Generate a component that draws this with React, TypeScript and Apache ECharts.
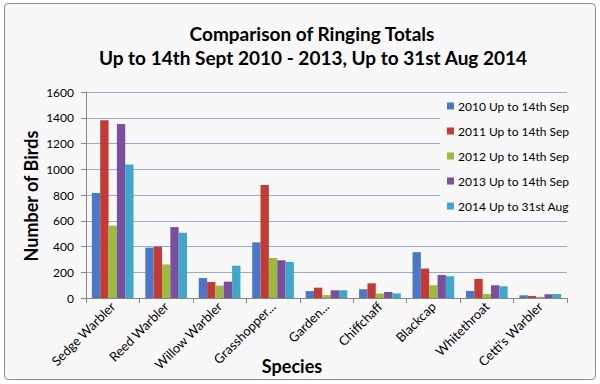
import React, { useEffect, useRef } from "react";
import * as echarts from "echarts";

const categories = [
  "Sedge Warbler",
  "Reed Warbler",
  "Willow Warbler",
  "Grasshopper...",
  "Garden...",
  "Chiffchaff",
  "Blackcap",
  "Whitethroat",
  "Cetti's Warbler",
];

const seriesNames = [
  "2010 Up to 14th Sep",
  "2011 Up to 14th Sep",
  "2012 Up to 14th Sep",
  "2013 Up to 14th Sep",
  "2014 Up to 31st Aug",
];

const values2010 = [815, 391, 155, 432, 54, 68, 356, 55, 21];
const values2011 = [1381, 399, 124, 878, 80, 114, 229, 148, 16];
const values2012 = [562, 261, 96, 311, 23, 34, 99, 31, 10];
const values2013 = [1351, 551, 127, 293, 60, 47, 179, 99, 29];
const values2014 = [1036, 507, 251, 280, 60, 36, 169, 91, 31];

const seriesValues = [values2010, values2011, values2012, values2013, values2014];
const colors = ["#4a78c8", "#c43b34", "#9bbb3e", "#7b4fa0", "#3fa8c8"];

const titleLines = [
  "Comparison of Ringing Totals",
  "Up to 14th Sept 2010 - 2013, Up to 31st Aug 2014",
];

const FONT = "Lato, 'Open Sans', sans-serif";
const BG = "#f8f8f8";

export default function App() {
  const ref = useRef<HTMLDivElement>(null);

  useEffect(() => {
    document.body.style.margin = "0";
    const chart = echarts.init(ref.current!, null, { renderer: "svg" });
    chart.setOption({
      animation: false,
      backgroundColor: "#ffffff",
      color: colors,
      textStyle: { fontFamily: FONT },
      grid: { left: 86, right: 33, top: 92, bottom: 86, containLabel: false },
      graphic: [
        {
          type: "rect",
          z: -10,
          silent: true,
          shape: { x: 4.5, y: 3.5, width: 591, height: 376, r: 4 },
          style: { fill: BG, stroke: "#8a8a8a", lineWidth: 1 },
        },
        {
          type: "rect",
          z: 1,
          silent: true,
          shape: { x: 440, y: 95, width: 128, height: 122 },
          style: { fill: BG },
        },
        {
          type: "text",
          x: 312,
          y: 33,
          style: {
            text: titleLines[0],
            fontFamily: FONT,
            fontSize: 19,
            fontWeight: "bold",
            fill: "#000",
            align: "center",
            verticalAlign: "middle",
          },
        },
        {
          type: "text",
          x: 313,
          y: 57,
          style: {
            text: titleLines[1],
            fontFamily: FONT,
            fontSize: 19,
            fontWeight: "bold",
            fill: "#000",
            align: "center",
            verticalAlign: "middle",
          },
        },
        {
          type: "text",
          x: 31,
          y: 196,
          rotation: Math.PI / 2,
          style: {
            text: "Number of Birds",
            fontFamily: FONT,
            fontSize: 18,
            fontWeight: "bold",
            fill: "#000",
            align: "center",
            verticalAlign: "middle",
          },
        },
        {
          type: "text",
          x: 292,
          y: 366,
          style: {
            text: "Species",
            fontFamily: FONT,
            fontSize: 18,
            fontWeight: "bold",
            fill: "#000",
            align: "center",
            verticalAlign: "middle",
          },
        },
      ],
      legend: {
        orient: "vertical",
        left: 442,
        top: 95,
        itemWidth: 7,
        itemHeight: 7,
        itemGap: 13,
        icon: "rect",
        textStyle: { fontFamily: FONT, fontSize: 12, color: "#000", padding: [0, 0, 0, -1] },
        data: seriesNames,
      },
      xAxis: {
        type: "category",
        data: categories,
        boundaryGap: true,
        axisLine: { lineStyle: { color: "#868686", width: 1 } },
        axisTick: { show: true, length: 5, inside: false, lineStyle: { color: "#868686" } },
        axisLabel: {
          rotate: 45,
          interval: 0,
          fontFamily: FONT,
          fontSize: 13,
          color: "#000",
          margin: 6,
        },
      },
      yAxis: {
        type: "value",
        min: 0,
        max: 1600,
        interval: 200,
        axisLine: { show: true, lineStyle: { color: "#868686", width: 1 } },
        axisTick: { show: true, length: 5, lineStyle: { color: "#868686" } },
        axisLabel: {
          fontFamily: FONT,
          fontSize: 12,
          color: "#000",
          margin: 12,
          formatter: (v: number) => String(v),
        },
        splitLine: { show: true, lineStyle: { color: "#95aadb", width: 1 } },
      },
      series: seriesNames.map((name, i) => ({
        name,
        type: "bar",
        data: seriesValues[i],
        barGap: "0%",
        barCategoryGap: "22%",
        itemStyle: { color: colors[i] },
      })),
    });
    return () => chart.dispose();
  }, []);

  return (
    <div
      ref={ref}
      style={{ position: "absolute", left: 0, top: 0, width: 600, height: 384 }}
    />
  );
}
